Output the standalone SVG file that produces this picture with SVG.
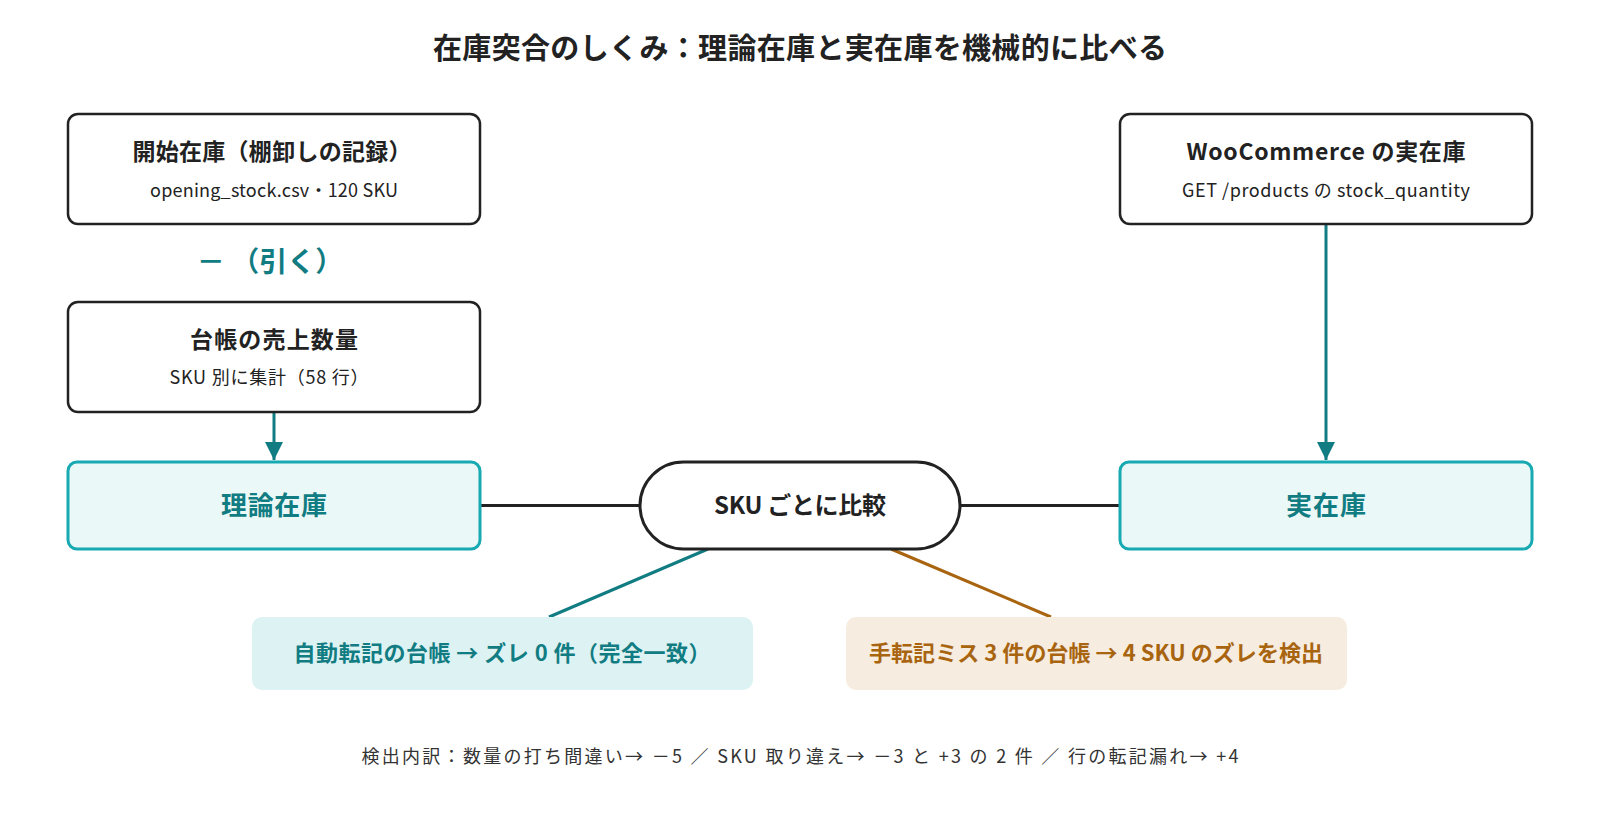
<svg xmlns="http://www.w3.org/2000/svg" width="1600" height="823" viewBox="0 0 1600 823">
<style>
text{font-family:"Noto Sans CJK JP","Noto Sans",sans-serif;text-anchor:middle}
.title{font-size:29px;font-weight:700;fill:#222}
.box{fill:#fff;stroke:#222;stroke-width:2.5}
.hd{font-size:23px;font-weight:700;fill:#222}
.sub{font-size:18px;fill:#222}
.res{fill:#ebf8f8;stroke:#17aab2;stroke-width:3}
.resT{font-size:26px;font-weight:700;fill:#117c82}
.pill{fill:#fff;stroke:#222;stroke-width:3}
.pillT{font-size:24px;font-weight:700;fill:#222}
.ok{fill:#ddf2f3}
.okT{font-size:22px;font-weight:700;fill:#117c82}
.ng{fill:#f6ecdf}
.ngT{font-size:22px;font-weight:700;fill:#a8640f}
.ln{stroke:#222;stroke-width:3;fill:none}
.tl{stroke:#117c82;stroke-width:3;fill:none}
.bl{stroke:#a8640f;stroke-width:3;fill:none}
.note{font-size:18px;fill:#333}
.minus{font-size:28px;font-weight:700;fill:#117c82}
</style>
<defs>
<marker id="ah" viewBox="0 0 10 10" refX="10" refY="5" markerWidth="6" markerHeight="6" markerUnits="strokeWidth" orient="auto">
<path d="M0,0 L10,5 L0,10 z" fill="#117c82"/>
</marker>
</defs>
<rect width="1600" height="823" fill="#fff"/>
<text class="title" x="800" y="59" textLength="734" lengthAdjust="spacing">在庫突合のしくみ：理論在庫と実在庫を機械的に比べる</text>

<g id="connectors">
<line class="tl" x1="274" y1="413" x2="274" y2="460" marker-end="url(#ah)"/>
<line class="tl" x1="1326" y1="225" x2="1326" y2="460" marker-end="url(#ah)"/>
<line class="ln" x1="481" y1="505.5" x2="640" y2="505.5"/>
<line class="ln" x1="960" y1="505.5" x2="1120" y2="505.5"/>
<line class="tl" x1="708" y1="549" x2="549" y2="617"/>
<line class="bl" x1="891" y1="549" x2="1051" y2="617"/>
</g>

<g id="opening">
<rect class="box" x="68" y="114" width="412" height="110" rx="10"/>
<text class="hd" x="272" y="160" textLength="279" lengthAdjust="spacing">開始在庫（棚卸しの記録）</text>
<text class="sub" x="274" y="197" textLength="248" lengthAdjust="spacing">opening_stock.csv・120 SKU</text>
</g>

<text class="minus" x="270" y="272">－ （引く）</text>

<g id="sales">
<rect class="box" x="68" y="302" width="412" height="110" rx="10"/>
<text class="hd" x="274" y="348" textLength="168" lengthAdjust="spacing">台帳の売上数量</text>
<text class="sub" x="269" y="384" textLength="199" lengthAdjust="spacing">SKU 別に集計（58 行）</text>
</g>

<g id="woo">
<rect class="box" x="1120" y="114" width="412" height="110" rx="10"/>
<text class="hd" x="1326" y="160" textLength="279" lengthAdjust="spacing">WooCommerce の実在庫</text>
<text class="sub" x="1326" y="197" textLength="288" lengthAdjust="spacing">GET /products の stock_quantity</text>
</g>

<g id="theory">
<rect class="res" x="68" y="462" width="412" height="87" rx="9"/>
<text class="resT" x="274" y="515" textLength="106" lengthAdjust="spacing">理論在庫</text>
</g>

<g id="actual">
<rect class="res" x="1120" y="462" width="412" height="87" rx="9"/>
<text class="resT" x="1326" y="515" textLength="80" lengthAdjust="spacing">実在庫</text>
</g>

<g id="compare">
<rect class="pill" x="640" y="462" width="320" height="87" rx="43.5"/>
<text class="pillT" x="800" y="514" textLength="172" lengthAdjust="spacing">SKU ごとに比較</text>
</g>

<g id="auto">
<rect class="ok" x="252" y="617" width="501" height="73" rx="10"/>
<text class="okT" x="502" y="661" textLength="417" lengthAdjust="spacing">自動転記の台帳 → ズレ 0 件（完全一致）</text>
</g>

<g id="manual">
<rect class="ng" x="846" y="617" width="501" height="73" rx="10"/>
<text class="ngT" x="1096" y="661" textLength="454" lengthAdjust="spacing">手転記ミス 3 件の台帳 → 4 SKU のズレを検出</text>
</g>

<text class="note" x="800" y="763" textLength="877" lengthAdjust="spacing">検出内訳：数量の打ち間違い→ －5 ／ SKU 取り違え→ －3 と +3 の 2 件 ／ 行の転記漏れ→ +4</text>
</svg>
